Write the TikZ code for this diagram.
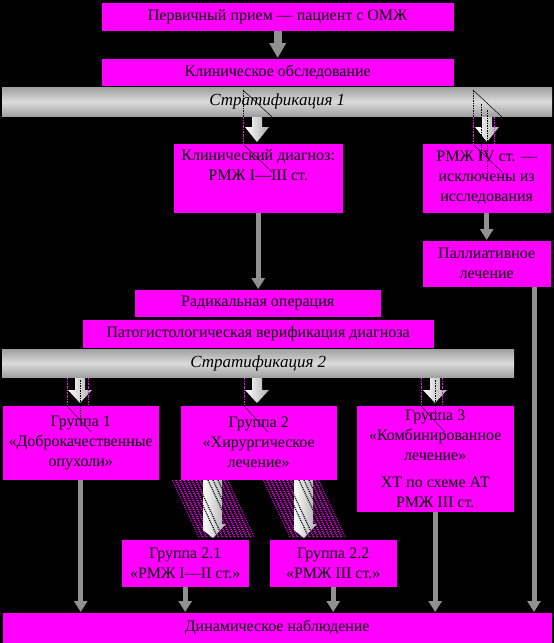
\documentclass[tikz,border=0pt]{standalone}
\usepackage{fontspec}
\setmainfont{Liberation Serif}
\usetikzlibrary{arrows.meta, positioning, calc}
\definecolor{boxpink}{RGB}{255,0,255}
\definecolor{arrgray}{RGB}{145,145,145}
\tikzset{
  blk/.style={fill=boxpink, draw=black, inner sep=0pt, align=center, anchor=north west,
    font=\fontsize{16}{20}\selectfont},
  stratbar/.style={top color=gray!75, bottom color=gray!75, middle color=gray!28, inner sep=0pt,
    anchor=north west, font=\fontsize{17}{20}\selectfont\itshape},
  garrow/.style={draw=arrgray, line width=5pt, -{Triangle[width=13pt,length=11pt]}},
  bigarrow/.style={draw=arrgray, line width=8pt, -{Triangle[width=16pt,length=15pt]}},
  wharrow/.style={left color=white, right color=gray!65, draw=none},
  ghostm/.style={boxpink, line width=0.6pt, dash pattern=on 2pt off 1pt on 0.6pt off 1pt},
  ghostb/.style={black, line width=0.5pt, dash pattern=on 1.5pt off 1pt},
  hatchln/.style={boxpink, line width=1.8pt, dash pattern=on 1pt off 1pt},
  c/.style={every coordinate/.try}}

\begin{document}
\begin{tikzpicture}[x=1pt, y=-1pt]
\fill[black] (0,0) rectangle (554,643);
\useasboundingbox (0,0) rectangle (554,643);
\node[blk, minimum width=353pt, minimum height=29pt] (p1) at (101,2) {Первичный прием --- пациент с ОМЖ};
\node[blk, minimum width=353pt, minimum height=28pt] (p2) at (101,58) {Клиническое обследование};
\node[stratbar, minimum width=550pt, minimum height=29pt] (s1) at (2,87) {Стратификация 1};
\node[blk, minimum width=170pt, minimum height=70pt] (cd) at (173,143) {Клинический диагноз:\\РМЖ I---III ст.\\\strut};
\node[blk, minimum width=129pt, minimum height=70pt] (ex) at (422,143) {РМЖ IV ст. ---\\исключены из\\исследования};
\node[blk, minimum width=129pt, minimum height=47pt] (pl) at (422,240) {Паллиативное\\лечение};
\node[blk, minimum width=247pt, minimum height=28pt] (ro) at (134,289) {Радикальная операция};
\node[blk, minimum width=352pt, minimum height=29pt] (pv) at (82,319) {Патогистологическая верификация диагноза};
\node[stratbar, minimum width=512pt, minimum height=28pt] (s2) at (2,349) {Стратификация 2};
\node[blk, minimum width=157pt, minimum height=75pt] (g1) at (2,405) {Группа 1\\«Доброкачественные\\опухоли»};
\node[blk, minimum width=157pt, minimum height=75pt] (g2) at (180,405) {Группа 2\\«Хирургическое\\лечение»};
\node[blk, minimum width=158pt, minimum height=107pt] (g3) at (356,405) {Группа 3\\«Комбинированное\\лечение»\\[7pt]ХТ по схеме АТ\\РМЖ III ст.};
\node[blk, minimum width=128pt, minimum height=48pt] (g21) at (121,539) {Группа 2.1\\«РМЖ I---II ст.»};
\node[blk, minimum width=128pt, minimum height=48pt] (g22) at (269,539) {Группа 2.2\\«РМЖ III ст.»};
\node[blk, minimum width=550pt, minimum height=31pt] (dy) at (2,612) {Динамическое наблюдение};
\coordinate (pe) at (534,287);

\draw[bigarrow] (p1) -- (p2);
\draw[garrow] (cd.south) -- (cd.south |- ro.north);
\draw[garrow] (ex) -- (pl);
\draw[garrow] (pe) -- (pe |- dy.north);
\draw[garrow] (g1.south) -- (g1.south |- dy.north);
\draw[garrow] (g21) -- (g21 |- dy.north);
\draw[garrow] (g22) -- (g22 |- dy.north);
\draw[garrow] (g3) -- (g3 |- dy.north);

\foreach \x/\y/\s/\h in {257/117/10/15, 487/117/10/15, 80/378/12/13, 257/378/12/13, 435/378/12/13}
  \fill[wharrow] (\x-5,\y) -- (\x+5,\y) -- (\x+5,\y+\s) -- (\x+12,\y+\s) -- (\x,\y+\s+\h)
    -- (\x-12,\y+\s) -- (\x-5,\y+\s) -- cycle;

\foreach \x in {243, 473} {
  \draw[ghostb] (\x,90) -- (\x,117);
  \draw[black, line width=0.5pt] (\x,90) -- (\x+29,117);
  \draw[ghostm] (\x,117) -- (\x,146);
  \draw[black, line width=0.5pt] (\x+1,145) -- (\x+29,172);
}
\draw[ghostb] (481,104) -- (481,160);
\draw[ghostb] (487,110) -- (487,175);
\draw[ghostm] (494,117) -- (494,180);
\foreach \x in {67, 244, 421} {
  \draw[ghostm] (\x,378) -- (\x,408);
  \draw[black, line width=0.5pt] (\x,406) -- (\x+24,432);
}
\foreach \x in {88, 442} \draw[ghostm] (\x,378) -- (\x,418);
\foreach \x in {80, 435} \draw[ghostb] (\x,380) -- (\x,420);

\foreach \a/\b in {172/203, 263/294} {
  \begin{scope}
    \clip (\a,480) -- (\a+56,480) -- (\a+83,538) -- (\a+27,538) -- cycle;
    \foreach \o in {0,4,...,56}
      \draw[hatchln] (\a+\o,480) -- (\a+\o+27,538);
  \end{scope}
  \fill[wharrow] (\b,480) -- (\b+19,480) -- (\b+19,524) -- (\b+23,524) -- (\b+10,538)
    -- (\b,530) -- cycle;
  \begin{scope}
    \clip (\b,480) -- (\b+19,480) -- (\b+19,524) -- (\b+23,524) -- (\b+10,538)
      -- (\b,530) -- cycle;
    \foreach \o in {-12,-7,5,10,15}
      \draw[black, line width=1.2pt, dash pattern=on 1pt off 1pt] (\b+\o,480) -- (\b+\o+27,538);
  \end{scope}
}
\end{tikzpicture}
\end{document}
